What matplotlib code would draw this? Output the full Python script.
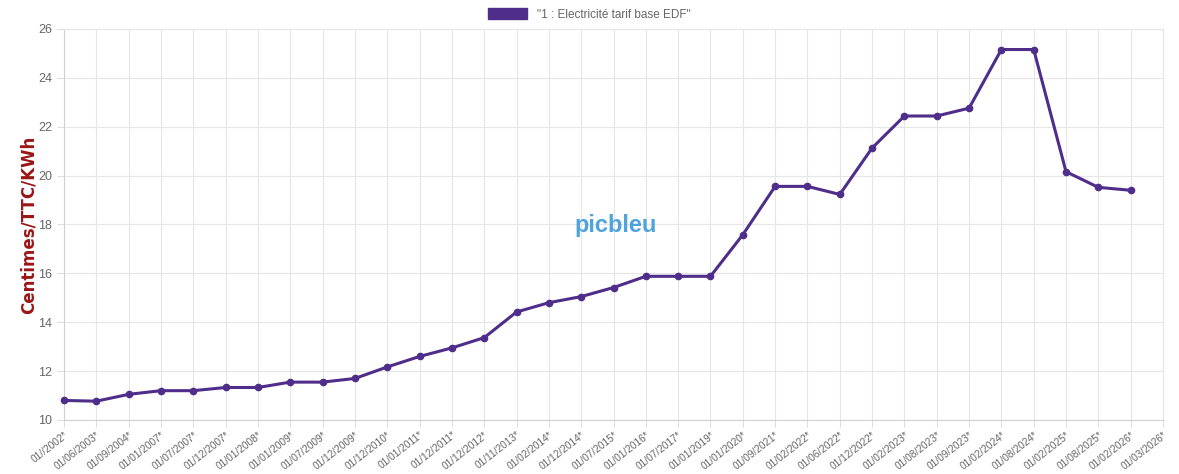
import matplotlib.pyplot as plt
from matplotlib.patches import Patch

plt.rcParams['font.family'] = ['Liberation Sans', 'DejaVu Sans']

dates = ['01//2002*', '01/06/2003*', '01/09/2004*', '01/01/2007*', '01/07/2007*',
         '01/12/2007*', '01/01/2008*', '01/01/2009*', '01/07/2009*', '01/12/2009*',
         '01/12/2010*', '01/01/2011*', '01/12/2011*', '01/12/2012*', '01/11/2013*',
         '01/02/2014*', '01/12/2014*', '01/07/2015*', '01/01/2016*', '01/07/2017*',
         '01/01/2019*', '01/01/2020*', '01/09/2021*', '01/02/2022*', '01/06/2022*',
         '01/12/2022*', '01/02/2023*', '01/08/2023*', '01/09/2023*', '01/02/2024*',
         '01/08/2024*', '01/02/2025*', '01/08/2025*', '01/02/2026*', '01/03/2026*']
prix = [10.80, 10.77, 11.05, 11.20, 11.20, 11.33, 11.33, 11.55, 11.55, 11.70,
        12.17, 12.60, 12.95, 13.37, 14.42, 14.80, 15.05, 15.42, 15.88, 15.88,
        15.88, 17.58, 19.56, 19.56, 19.23, 21.13, 22.44, 22.44, 22.76, 25.16,
        25.16, 20.16, 19.52, 19.40]

violet = '#4f2d8a'
gris = '#666666'

fig = plt.figure(figsize=(11.79, 4.74), dpi=100)
ax = fig.add_axes([64 / 1179, 1 - 420 / 474, (1163 - 64) / 1179, (420 - 29) / 474])

ax.plot(range(len(prix)), prix, color=violet, lw=2.2, marker='o', ms=4.5,
        solid_joinstyle='round', clip_on=False, zorder=3)

ax.set_xlim(0, len(dates) - 1)
ax.set_ylim(10, 26)
ax.set_yticks(range(10, 27, 2))
ax.set_xticks(range(len(dates)))
ax.set_xticklabels(dates, rotation=38, ha='right', rotation_mode='anchor')
ax.tick_params(colors='#dddddd', labelcolor=gris, labelsize=9, length=5, width=0.8)
ax.tick_params(axis='x', labelsize=7.3, pad=2)
ax.grid(True, color='#e6e6e6', lw=0.8)
ax.set_axisbelow(True)
for s in ax.spines.values():
    s.set_color('#e6e6e6')
ax.spines['left'].set_color('#d0d0d0')
ax.spines['bottom'].set_color('#d0d0d0')

ax.set_ylabel('Centimes/TTC/KWh', color='#9b1515', fontsize=12, fontweight='bold',
              family=['DejaVu Sans'], va='center')
ax.yaxis.set_label_coords(-0.032, 0.5)

fig.legend(handles=[Patch(facecolor=violet, edgecolor=violet,
                          label='"1 : Electricité tarif base EDF"')],
           loc='upper center', bbox_to_anchor=(0.5, 1.005), frameon=False,
           handlelength=3.3, handleheight=1.0, fontsize=8.5, labelcolor=gris)

# filigrane picbleu
fig.text(0.522, 0.525, 'picbleu', color='#3b9ad8', fontsize=17, fontweight='bold',
         ha='center', va='center', alpha=0.9)

fig.savefig('out.png', dpi=100)
